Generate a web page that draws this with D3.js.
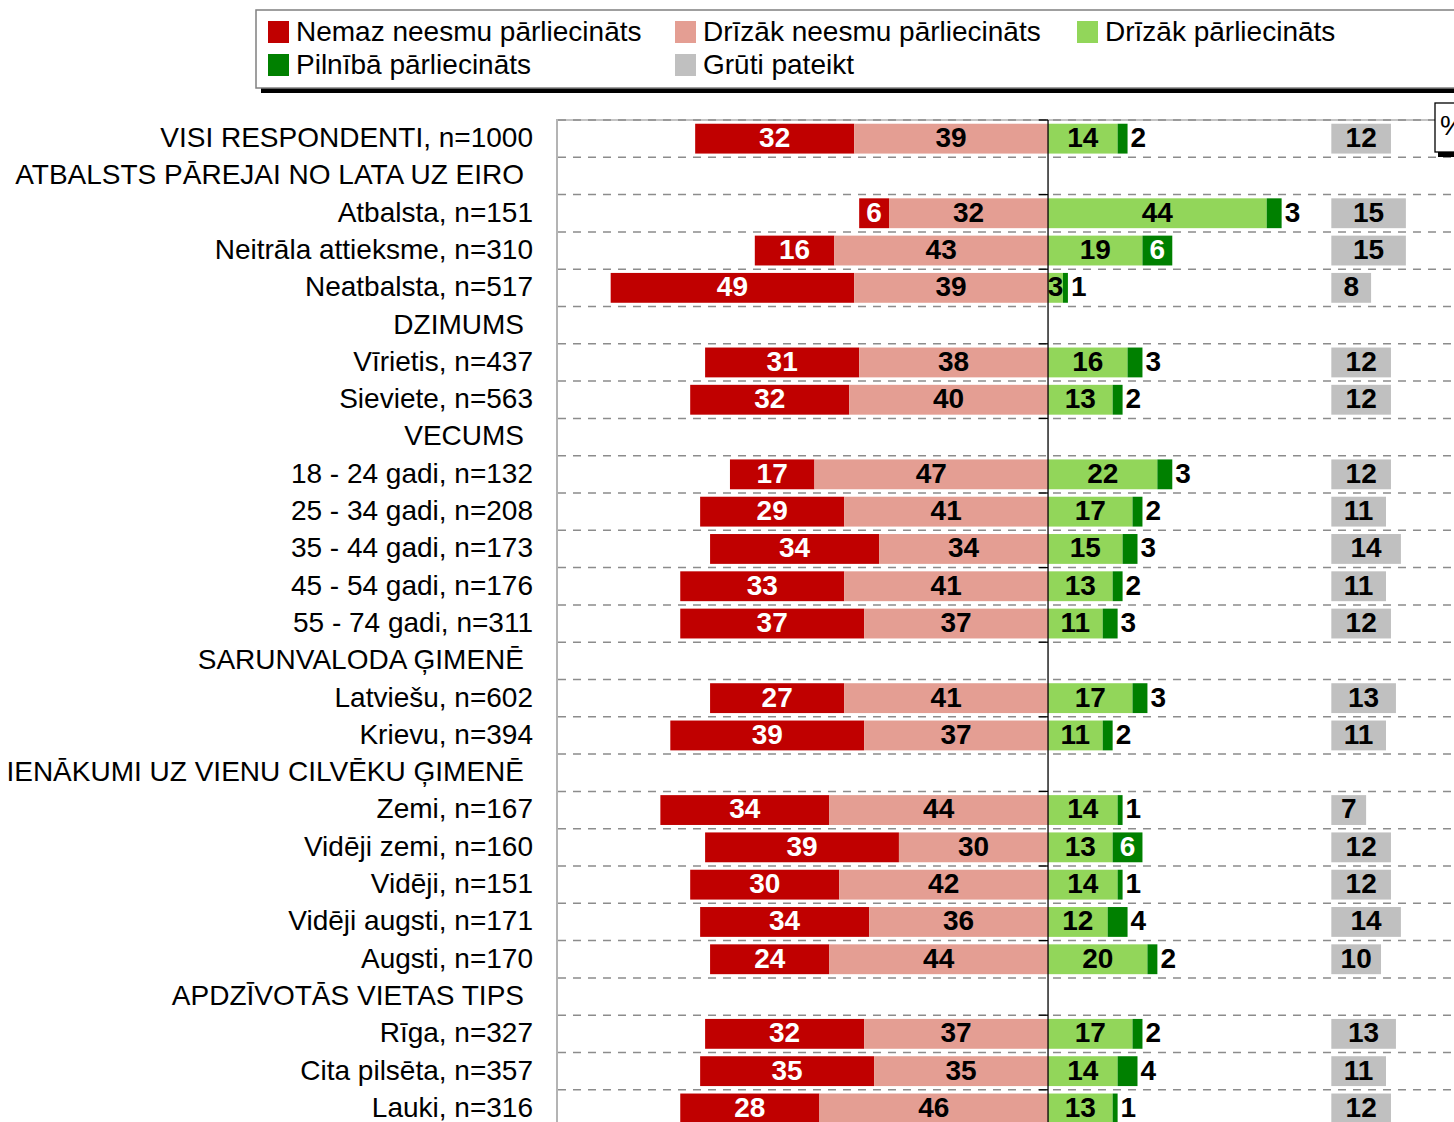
<!DOCTYPE html>
<html>
<head>
<meta charset="utf-8">
<script src="https://cdn.jsdelivr.net/npm/d3@7"></script>
<style>
  body { margin: 0; background: #fff; }
  svg { display: block; font-family: "Liberation Sans", Arial, sans-serif; }
</style>
</head>
<body>
<svg id="svg01" width="1454" height="1122"></svg>
<script>
// rows of the chart, headers have null values
const labels = [
  "VISI RESPONDENTI, n=1000",
  "ATBALSTS PĀREJAI NO LATA UZ EIRO",
  "Atbalsta, n=151",
  "Neitrāla attieksme, n=310",
  "Neatbalsta, n=517",
  "DZIMUMS",
  "Vīrietis, n=437",
  "Sieviete, n=563",
  "VECUMS",
  "18 - 24 gadi, n=132",
  "25 - 34 gadi, n=208",
  "35 - 44 gadi, n=173",
  "45 - 54 gadi, n=176",
  "55 - 74 gadi, n=311",
  "SARUNVALODA ĢIMENĒ",
  "Latviešu, n=602",
  "Krievu, n=394",
  "IENĀKUMI UZ VIENU CILVĒKU ĢIMENĒ",
  "Zemi, n=167",
  "Vidēji zemi, n=160",
  "Vidēji, n=151",
  "Vidēji augsti, n=171",
  "Augsti, n=170",
  "APDZĪVOTĀS VIETAS TIPS",
  "Rīga, n=327",
  "Cita pilsēta, n=357",
  "Lauki, n=316"
]
const nemaz    = [32, null, 6, 16, 49, null, 31, 32, null, 17, 29, 34, 33, 37, null, 27, 39, null, 34, 39, 30, 34, 24, null, 32, 35, 28]
const drizakNe = [39, null, 32, 43, 39, null, 38, 40, null, 47, 41, 34, 41, 37, null, 41, 37, null, 44, 30, 42, 36, 44, null, 37, 35, 46]
const drizakJa = [14, null, 44, 19, 3, null, 16, 13, null, 22, 17, 15, 13, 11, null, 17, 11, null, 14, 13, 14, 12, 20, null, 17, 14, 13]
const pilniba  = [2, null, 3, 6, 1, null, 3, 2, null, 3, 2, 3, 2, 3, null, 3, 2, null, 1, 6, 1, 4, 2, null, 2, 4, 1]
const gruti    = [12, null, 15, 15, 8, null, 12, 12, null, 12, 11, 14, 11, 12, null, 13, 11, null, 7, 12, 12, 14, 10, null, 13, 11, 12]

const legendNames = ["Nemaz neesmu pārliecināts", "Drīzāk neesmu pārliecināts", "Drīzāk pārliecināts",
                     "Pilnībā pārliecināts", "Grūti pateikt"]
const colors = ["#c00000", "#e49e93", "#92d65a", "#008000", "#c0c0c0"]
const grutiStart = 57   // "Grūti pateikt" column starts at a fixed offset

const data = labels.map((d, i) => ({
  i: i, label: d, header: nemaz[i] === null,
  a: nemaz[i], b: drizakNe[i], c: drizakJa[i], d: pilniba[i], e: gruti[i]
}))

const width = 1454, height = 1122
const plotTop = 120, step = 37.3

const x = d3.scaleLinear()
  .domain([-98.8, 100])
  .range([557, 557 + 198.8 * 4.97])

const y = d3.scaleBand()
  .domain(data.map(d => d.i))
  .range([plotTop, plotTop + step * data.length])
  .paddingInner(0.2)
  .paddingOuter(0.1)

const svg = d3.select("#svg01")

// plot frame + grid
const grid = svg.append("g")
grid.append("line")
  .attr("x1", x(-98.8)).attr("x2", width).attr("y1", plotTop).attr("y2", plotTop)
  .attr("stroke", "#c4c4c4").attr("stroke-width", 2)
grid.append("line")
  .attr("x1", x(-98.8)).attr("x2", x(-98.8)).attr("y1", plotTop - 1).attr("y2", height)
  .attr("stroke", "#b4b4b4").attr("stroke-width", 2)
grid.selectAll("line.g")
  .data(d3.range(0, data.length + 1))
  .join("line")
  .attr("class", "g")
  .attr("x1", x(-98.8) + 1).attr("x2", width)
  .attr("y1", k => plotTop + k * step).attr("y2", k => plotTop + k * step)
  .attr("stroke", "#8c8c8c").attr("stroke-width", 1.5)
  .attr("stroke-dasharray", "8,7")

const rows = data.filter(d => !d.header)
const bars = svg.append("g")

function seg(cls, x0, x1, color) {
  bars.selectAll("rect." + cls)
    .data(rows)
    .join("rect")
    .attr("class", cls)
    .attr("x", d => x(x0(d)))
    .attr("width", d => x(x1(d)) - x(x0(d)))
    .attr("y", d => y(d.i))
    .attr("height", y.bandwidth())
    .attr("fill", color)
}
seg("s1", d => -(d.a + d.b), d => -d.b, colors[0])
seg("s2", d => -d.b, d => 0, colors[1])
seg("s3", d => 0, d => d.c, colors[2])
seg("s4", d => d.c, d => d.c + d.d, colors[3])
seg("s5", d => grutiStart, d => grutiStart + d.e, colors[4])

// zero line with ticks every other row
svg.append("line")
  .attr("x1", x(0)).attr("x2", x(0)).attr("y1", plotTop).attr("y2", height)
  .attr("stroke", "#000").attr("stroke-width", 1.3)
svg.append("g").selectAll("line")
  .data(d3.range(0, data.length + 1, 2))
  .join("line")
  .attr("x1", x(0) - 9).attr("x2", x(0))
  .attr("y1", k => plotTop + k * step).attr("y2", k => plotTop + k * step)
  .attr("stroke", "#000").attr("stroke-width", 1.3)

// value labels
const vals = svg.append("g")
  .attr("font-weight", "bold").attr("font-size", 28)
function lab(cls, pos, txt, fill, anchor) {
  vals.selectAll("text." + cls)
    .data(rows)
    .join("text")
    .attr("class", cls)
    .attr("x", d => pos(d))
    .attr("y", d => y(d.i) + y.bandwidth() / 2)
    .attr("dy", "0.3em")
    .attr("text-anchor", d => anchor ? anchor(d) : "middle")
    .attr("fill", d => typeof fill === "function" ? fill(d) : fill)
    .text(txt)
}
lab("l1", d => x(-(d.a / 2 + d.b)), d => d.a, "#fff")
lab("l2", d => x(-d.b / 2), d => d.b, "#000")
lab("l3", d => x(d.c / 2), d => d.c, "#000")
lab("l4", d => d.d >= 5 ? x(d.c + d.d / 2) : x(d.c + d.d) + 3,
  d => d.d, d => d.d >= 5 ? "#fff" : "#000", d => d.d >= 5 ? "middle" : "start")
lab("l5", d => x(grutiStart + d.e / 2), d => d.e, "#000")

// category labels
svg.append("g")
  .attr("font-size", 28)
  .selectAll("text")
  .data(data)
  .join("text")
  .attr("x", d => d.header ? 524 : 533)
  .attr("y", d => y(d.i) + y.bandwidth() / 2)
  .attr("dy", "0.3em")
  .attr("text-anchor", "end")
  .attr("fill", "#000")
  .text(d => d.label)

// legend
const lg = svg.append("g")
lg.append("rect").attr("x", 261).attr("y", 15).attr("width", 1220).attr("height", 78).attr("fill", "#000")
lg.append("rect").attr("x", 256).attr("y", 10).attr("width", 1220).attr("height", 78)
  .attr("fill", "#fff").attr("stroke", "#808080").attr("stroke-width", 1.5)
const lgPos = [[268, 21], [675, 21], [1077, 21], [268, 54], [675, 54]]
const items = lg.selectAll("g.item")
  .data(legendNames)
  .join("g")
  .attr("class", "item")
  .attr("transform", (d, i) => `translate(${lgPos[i][0]},${lgPos[i][1]})`)
items.append("rect").attr("width", 21).attr("height", 22).attr("fill", (d, i) => colors[i])
items.append("text")
  .attr("x", 28).attr("y", 11).attr("dy", "0.33em")
  .attr("font-size", 28).text(d => d)

// "%" box
const pb = svg.append("g")
pb.append("rect").attr("x", 1438).attr("y", 107).attr("width", 40).attr("height", 50).attr("fill", "#000")
pb.append("rect").attr("x", 1435).attr("y", 103).attr("width", 40).attr("height", 49)
  .attr("fill", "#fff").attr("stroke", "#000").attr("stroke-width", 1.3)
pb.append("text").attr("x", 1440).attr("y", 135).attr("font-size", 28).text("%")
</script>
</body>
</html>
